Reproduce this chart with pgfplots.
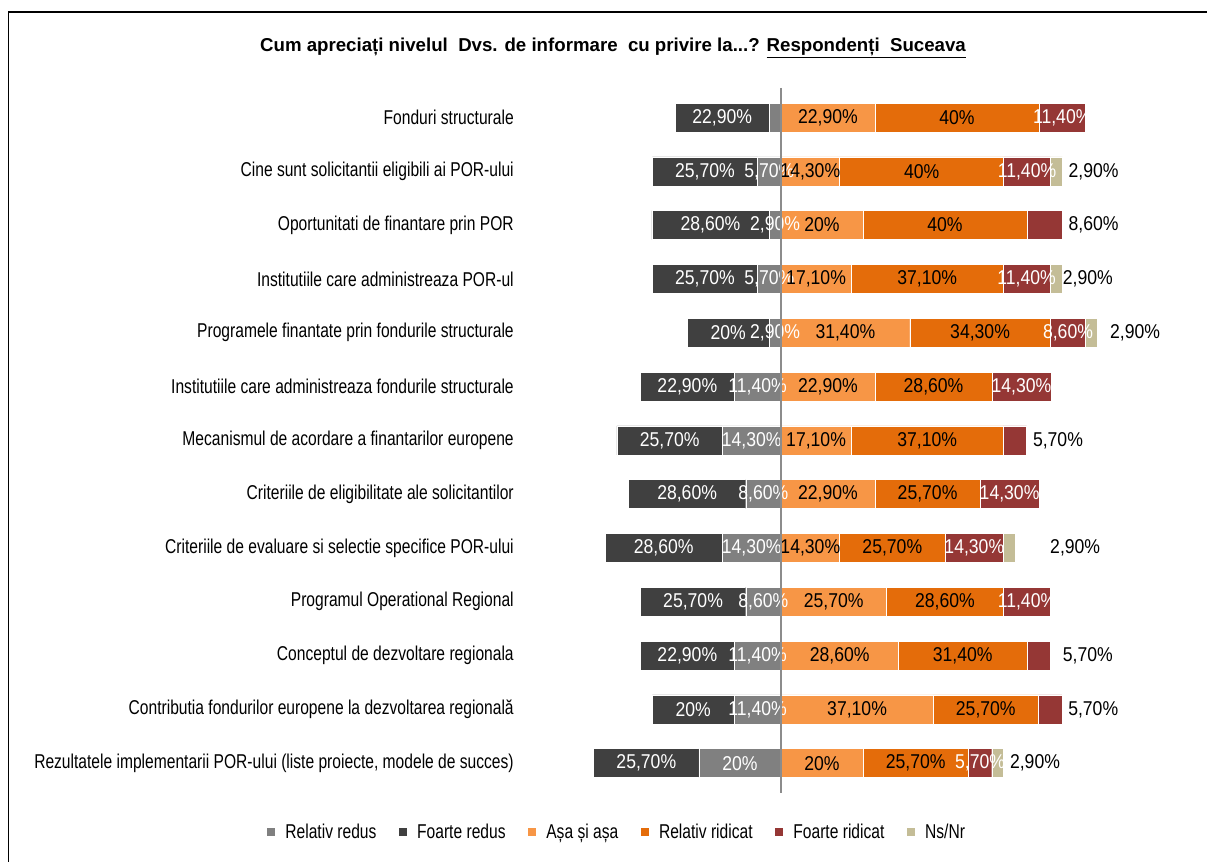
\documentclass[border=0pt]{standalone}
\usepackage{fontspec}
\setmainfont{Liberation Sans}[FakeStretch=0.78]
\newfontfamily\titlefont{Liberation Sans}
\newfontfamily\numfont{Liberation Sans}[FakeStretch=0.88]
\usepackage{pgfplots}
\usepackage{pgfplotstable}
\pgfplotsset{compat=1.18}
\pgfkeys{/pgf/number format/assume math mode=true}

\definecolor{cRR}{HTML}{808080}
\definecolor{cFR}{HTML}{404040}
\definecolor{cAA}{HTML}{F79646}
\definecolor{cRI}{HTML}{E46C0A}
\definecolor{cFRi}{HTML}{953735}
\definecolor{cNs}{HTML}{C4BD97}
\definecolor{cLine}{HTML}{8C8C8C}

\newcommand\lab{\fontsize{15pt}{18pt}\selectfont}
\newcommand\nlab{\numfont\fontsize{15pt}{18pt}\selectfont}
\newcommand\fmt[1]{\pgfmathtruncatemacro\isint{abs(#1-round(#1))<0.01}\ifnum\isint=1 \pgfmathprintnumber[fixed,precision=0]{#1}\else\pgfmathprintnumber[fixed,precision=2,fixed zerofill,use comma]{#1}\fi\%}

% y FR=Foarte redus, RR=Relativ redus, AA=Asa si asa, RI=Relativ ridicat, FRi=Foarte ridicat, Ns=Ns/Nr
% RRl: show RR label; FRil: 1 inside, 2 outside; Nsl: show Ns label outside; og: gap of outside label
\pgfplotstableread{
y  FR   RR   AA   RI   FRi  Ns  RRl FRil Nsl og
1  22.9 2.9  22.9 40   11.4 0   0   1    0   0
2  25.7 5.7  14.3 40   11.4 2.9 1   1    1   1.5
3  28.6 2.9  20   40   8.6  0   1   2    0   1.5
4  25.7 5.7  17.1 37.1 11.4 2.9 1   1    1   0.2
5  20   2.9  31.4 34.3 8.6  2.9 1   1    1   3
6  22.9 11.4 22.9 28.6 14.3 0   1   1    0   0
7  25.7 14.3 17.1 37.1 5.7  0   1   2    0   1.5
8  28.6 8.6  22.9 25.7 14.3 0   1   1    0   0
9  28.6 14.3 14.3 25.7 14.3 2.9 1   1    1   8.4
10 25.7 8.6  25.7 28.6 11.4 0   1   1    0   0
11 22.9 11.4 28.6 31.4 5.7  0   1   2    0   3
12 20   11.4 37.1 25.7 5.7  0   1   2    0   1.5
13 25.7 20   20   25.7 5.7  2.9 1   1    1   1.5
}\data

\pgfplotsset{geom/.style={
  at={(432pt,-67.95pt)}, anchor=north west,
  scale only axis, width=461.25pt, height=524.55pt,
  xmin=-50, xmax=100, ymin=0.5, ymax=13.5, y dir=reverse, clip=false}}

\begin{document}
\begin{tikzpicture}
\path[use as bounding box] (0,0) rectangle (905.25pt,-645.75pt);
\draw[line width=1.3pt] (6.3pt,-660pt) -- (6.3pt,-9.15pt) -- (920pt,-9.15pt);
\node[font=\titlefont\bfseries\fontsize{14pt}{17pt}\selectfont, inner sep=0pt] at (459.75pt,-36pt)
  {Cum apreciați nivelul\ \ Dvs. de informare\ \ cu privire la...? \underline{Respondenți\ \ Suceava}};
\begin{axis}[
  geom,
  xbar stacked, bar width=21.75pt,
  axis line style={draw=none}, tick style={draw=none}, major tick length=0pt,
  xtick=\empty, ytick={1,...,13},
  yticklabels={Fonduri structurale,
    Cine sunt solicitantii eligibili ai POR-ului,
    Oportunitati de finantare prin POR,
    Institutiile care administreaza POR-ul,
    Programele finantate prin fondurile structurale,
    Institutiile care administreaza fondurile structurale,
    Mecanismul de acordare a finantarilor europene,
    Criteriile de eligibilitate ale solicitantilor,
    Criteriile de evaluare si selectie specifice POR-ului,
    Programul Operational Regional,
    Conceptul de dezvoltare regionala,
    Contributia fondurilor europene la dezvoltarea regională,
    {Rezultatele implementarii POR-ului (liste proiecte, modele de succes)}},
  yticklabel style={font=\lab, inner sep=0pt, xshift=-46.5pt},
  legend columns=6,
  legend style={draw=none, fill=none, at={(0.0667,-0.060)}, anchor=center, font=\lab,
    /tikz/every odd column/.append style={column sep=5.25pt},
    /tikz/every even column/.append style={column sep=14.25pt}},
  legend image code/.code={\fill[#1] (0pt,-3.4pt) rectangle (6.75pt,3.4pt);},
]
\addplot[fill=cRR, draw=white, line width=0.3pt] table[x expr={-\thisrow{RR}}, y=y]{\data};
\addlegendentry{Relativ redus}
\addplot[fill=cFR, draw=white, line width=0.3pt] table[x expr={-\thisrow{FR}}, y=y]{\data};
\addlegendentry{Foarte redus}
\addplot[fill=cAA, draw=white, line width=0.3pt] table[x=AA, y=y]{\data};
\addlegendentry{Așa și așa}
\addplot[fill=cRI, draw=white, line width=0.3pt] table[x=RI, y=y]{\data};
\addlegendentry{Relativ ridicat}
\addplot[fill=cFRi, draw=white, line width=0.3pt] table[x=FRi, y=y]{\data};
\addlegendentry{Foarte ridicat}
\addplot[fill=cNs, draw=white, line width=0.3pt] table[x=Ns, y=y]{\data};
\addlegendentry{Ns/Nr}
\end{axis}

\begin{axis}[geom, hide axis]
\pgfplotsforeachungrouped \i in {0,...,12}{%
  \pgfplotstablegetelem{\i}{y}\of\data \let\vy\pgfplotsretval
  \pgfplotstablegetelem{\i}{FR}\of\data \let\vFR\pgfplotsretval
  \pgfplotstablegetelem{\i}{RR}\of\data \let\vRR\pgfplotsretval
  \pgfplotstablegetelem{\i}{AA}\of\data \let\vAA\pgfplotsretval
  \pgfplotstablegetelem{\i}{RI}\of\data \let\vRI\pgfplotsretval
  \pgfplotstablegetelem{\i}{FRi}\of\data \let\vFRi\pgfplotsretval
  \pgfplotstablegetelem{\i}{Ns}\of\data \let\vNs\pgfplotsretval
  \pgfplotstablegetelem{\i}{RRl}\of\data \let\vRRl\pgfplotsretval
  \pgfplotstablegetelem{\i}{FRil}\of\data \let\vFRil\pgfplotsretval
  \pgfplotstablegetelem{\i}{Nsl}\of\data \let\vNsl\pgfplotsretval
  \pgfplotstablegetelem{\i}{og}\of\data \let\vog\pgfplotsretval
  \pgfmathsetmacro\xFR{-\vRR-\vFR/2}
  \pgfmathsetmacro\xRR{-\vRR/2}
  \pgfmathsetmacro\xAA{\vAA/2}
  \pgfmathsetmacro\xRI{\vAA+\vRI/2}
  \pgfmathsetmacro\xFRi{\vAA+\vRI+\vFRi/2}
  \pgfmathsetmacro\xEnd{\vAA+\vRI+\vFRi+\vNs+\vog}
  \edef\tmp{\noexpand\node[font=\noexpand\nlab, inner sep=0pt, text=white] at (axis cs:\xFR,\vy) {\noexpand\fmt{\vFR}};}\tmp
  \ifnum\vRRl=1
    \edef\tmp{\noexpand\node[font=\noexpand\nlab, inner sep=0pt, text=white] at (axis cs:\xRR,\vy) {\noexpand\fmt{\vRR}};}\tmp
  \fi
  \edef\tmp{\noexpand\node[font=\noexpand\nlab, inner sep=0pt, text=black] at (axis cs:\xAA,\vy) {\noexpand\fmt{\vAA}};}\tmp
  \edef\tmp{\noexpand\node[font=\noexpand\nlab, inner sep=0pt, text=black] at (axis cs:\xRI,\vy) {\noexpand\fmt{\vRI}};}\tmp
  \ifnum\vFRil=1
    \edef\tmp{\noexpand\node[font=\noexpand\nlab, inner sep=0pt, text=white] at (axis cs:\xFRi,\vy) {\noexpand\fmt{\vFRi}};}\tmp
  \fi
  \ifnum\vFRil=2
    \edef\tmp{\noexpand\node[font=\noexpand\nlab, inner sep=0pt, text=black, anchor=west] at (axis cs:\xEnd,\vy) {\noexpand\fmt{\vFRi}};}\tmp
  \fi
  \ifnum\vNsl=1
    \edef\tmp{\noexpand\node[font=\noexpand\nlab, inner sep=0pt, text=black, anchor=west] at (axis cs:\xEnd,\vy) {\noexpand\fmt{\vNs}};}\tmp
  \fi
}
\draw[cLine, line width=1.1pt] (axis cs:0,0.45) -- (axis cs:0,13.55);
\end{axis}
\end{tikzpicture}
\end{document}
